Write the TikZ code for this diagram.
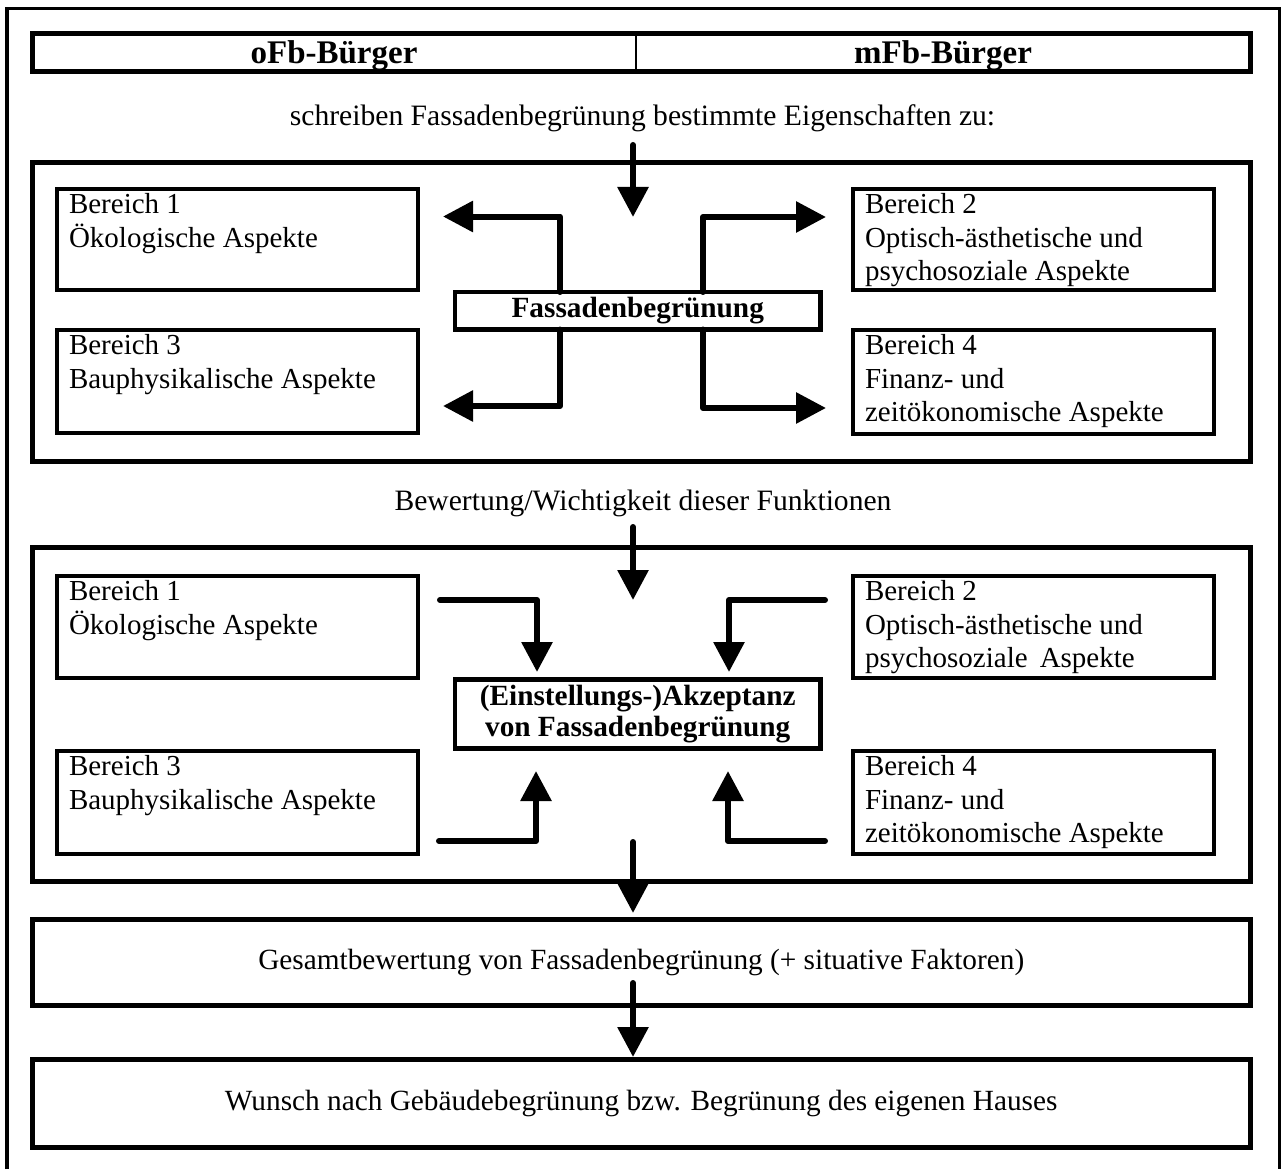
\documentclass[tikz,border=0pt]{standalone}
\usepackage{fontspec}
\setmainfont{Liberation Serif}
\usetikzlibrary{arrows.meta}
\begin{document}
\begin{tikzpicture}[x=1pt,y=-1pt,
 every node/.style={inner sep=0pt, outer sep=0pt},
 bigbox/.style={draw, line width=5pt, minimum width=1217.5pt, font=\fontsize{29.3}{33.5}\selectfont},
 smallbox/.style={draw, line width=4pt, minimum width=361pt, anchor=north west},
 midbox/.style={draw, line width=4.5pt, minimum width=365.5pt, align=center, font=\fontsize{29.3}{31}\selectfont\bfseries},
 txt/.style={anchor=base west, font=\fontsize{29}{33.5}\selectfont},
 ctxt/.style={anchor=base, font=\fontsize{29.6}{33.5}\selectfont},
 htxt/.style={anchor=base, font=\fontsize{33}{36}\selectfont\bfseries},
 flow/.style={line width=6pt, line cap=round, line join=round, -{Triangle[length=30pt,width=30pt]}},
 frameline/.style={line width=3.5pt}
]
\fill[white] (0,0) rectangle (1284,1169);
\useasboundingbox (0,0) rectangle (1284,1169);
\draw[frameline] (7,1169) -- (7,8.5) -- (1279.5,8.5) -- (1279.5,1169);

% header
\node[bigbox, minimum height=38pt] (hdr) at (641.25,52.5) {};
\draw[line width=2.5pt] ([xshift=603.5pt]hdr.north west) -- ([xshift=603.5pt]hdr.south west);
\node[htxt] (ofb) at (334,63.5) {oFb-Bürger};
\node[htxt] (mfb) at (943,63.5) {mFb-Bürger};

\node[ctxt] (t1) at (642.5,126) {schreiben Fassadenbegrünung bestimmte Eigenschaften zu:};

% section 1
\node[bigbox, minimum height=298.5pt] (sec1) at (641.25,311.75) {};
\node[smallbox, minimum height=100.5pt] (u1) at (57,189) {};
\node[smallbox, minimum height=103pt] (u3) at (57,330) {};
\node[smallbox, minimum height=100.5pt] (u2) at (853,189) {};
\node[smallbox, minimum height=103.5pt] (u4) at (853,330) {};

\node[txt] (u1a) at ([xshift=12pt,yshift=-24.5pt]u1.north west) {Bereich 1};
\node[txt] (u1b) at ([xshift=12pt,yshift=-58.5pt]u1.north west) {Ökologische Aspekte};
\node[txt] (u2a) at ([xshift=12pt,yshift=-24.5pt]u2.north west) {Bereich 2};
\node[txt] (u2b) at ([xshift=12pt,yshift=-58.5pt]u2.north west) {Optisch-ästhetische und};
\node[txt] (u2c) at ([xshift=12pt,yshift=-91.5pt]u2.north west) {psychosoziale Aspekte};
\node[txt] (u3a) at ([xshift=12pt,yshift=-24.5pt]u3.north west) {Bereich 3};
\node[txt] (u3b) at ([xshift=12pt,yshift=-58.5pt]u3.north west) {Bauphysikalische Aspekte};
\node[txt] (u4a) at ([xshift=12pt,yshift=-24.5pt]u4.north west) {Bereich 4};
\node[txt] (u4b) at ([xshift=12pt,yshift=-58.5pt]u4.north west) {Finanz- und};
\node[txt] (u4c) at ([xshift=12pt,yshift=-91.5pt]u4.north west) {zeitökonomische Aspekte};

\node[midbox, minimum height=37.5pt] (fb) at (637.75,310.75) {Fassadenbegrünung};

\coordinate (a0s) at (633,145);
\coordinate (a0e) at (633,217);
\draw[flow] (a0s) -- (a0e);
\coordinate (aul) at (443,216.5);
\coordinate (aur) at (826,217);
\coordinate (all) at (443,406);
\coordinate (alr) at (826,408);
\draw[flow] ([xshift=105pt]fb.north west) |- (aul);
\draw[flow] ([xshift=248pt]fb.north west) |- (aur);
\draw[flow] ([xshift=105pt]fb.south west) |- (all);
\draw[flow] ([xshift=248pt]fb.south west) |- (alr);

\node[ctxt] (t2) at (643,510) {Bewertung/Wichtigkeit dieser Funktionen};

% section 2
\node[bigbox, minimum height=334.5pt] (sec2) at (641.25,714.25) {};
\node[smallbox, minimum height=102.5pt] (l1) at (57,575.5) {};
\node[smallbox, minimum height=103.5pt] (l3) at (57,750.5) {};
\node[smallbox, minimum height=102.5pt] (l2) at (853,575.5) {};
\node[smallbox, minimum height=103.5pt] (l4) at (853,750.5) {};

\node[txt] (l1a) at ([xshift=12pt,yshift=-24.5pt]l1.north west) {Bereich 1};
\node[txt] (l1b) at ([xshift=12pt,yshift=-58.5pt]l1.north west) {Ökologische Aspekte};
\node[txt] (l2a) at ([xshift=12pt,yshift=-24.5pt]l2.north west) {Bereich 2};
\node[txt] (l2b) at ([xshift=12pt,yshift=-58.5pt]l2.north west) {Optisch-ästhetische und};
\node[txt] (l2c) at ([xshift=12pt,yshift=-91.5pt]l2.north west) {psychosoziale\ \,Aspekte};
\node[txt] (l3a) at ([xshift=12pt,yshift=-24.5pt]l3.north west) {Bereich 3};
\node[txt] (l3b) at ([xshift=12pt,yshift=-58.5pt]l3.north west) {Bauphysikalische Aspekte};
\node[txt] (l4a) at ([xshift=12pt,yshift=-24.5pt]l4.north west) {Bereich 4};
\node[txt] (l4b) at ([xshift=12pt,yshift=-58.5pt]l4.north west) {Finanz- und};
\node[txt] (l4c) at ([xshift=12pt,yshift=-91.5pt]l4.north west) {zeitökonomische Aspekte};

\node[midbox, minimum height=69pt] (ak) at (637.75,714) {(Einstellungs-)Akzeptanz\\von Fassadenbegrünung};

\coordinate (b0s) at (633,527);
\coordinate (b0e) at (633,600);
\draw[flow] (b0s) -- (b0e);
\coordinate (c1s) at (440,600);
\coordinate (c1e) at (537,672);
\coordinate (c2s) at (825,600);
\coordinate (c2e) at (729,672);
\coordinate (c3s) at (439,841);
\coordinate (c3e) at (536,771);
\coordinate (c4s) at (825,841);
\coordinate (c4e) at (728,771);
\draw[flow] (c1s) -| (c1e);
\draw[flow] (c2s) -| (c2e);
\draw[flow] (c3s) -| (c3e);
\draw[flow] (c4s) -| (c4e);

% bottom boxes
\node[bigbox, minimum height=86pt] (ges) at (641.25,962.5) {Gesamtbewertung von Fassadenbegrünung (+ situative Faktoren)};
\node[bigbox, minimum height=88.5pt] (wun) at (641.25,1103.25) {Wunsch nach Gebäudebegrünung bzw. Begrünung des eigenen Hauses};

\coordinate (d1s) at (633,842);
\coordinate (d1e) at (633,913);
\coordinate (d2s) at (633,983);
\coordinate (d2e) at (633,1057);
\draw[flow] (d1s) -- (d1e);
\draw[flow] (d2s) -- (d2e);
\end{tikzpicture}
\end{document}
